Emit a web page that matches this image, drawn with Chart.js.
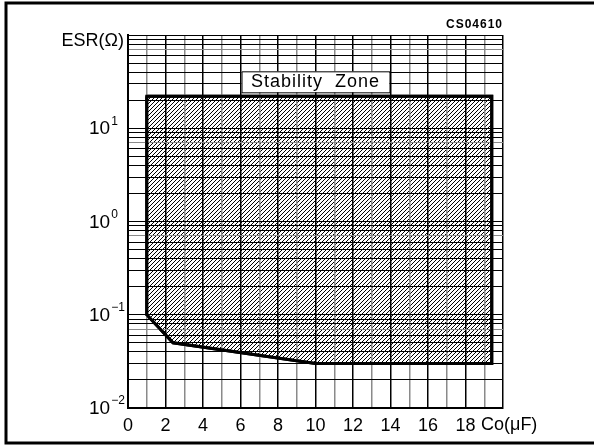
<!DOCTYPE html>
<html>
<head>
<meta charset="utf-8">
<script src="https://cdn.jsdelivr.net/npm/chart.js@4.4.1/dist/chart.umd.min.js"></script>
<style>
html, body { margin: 0; padding: 0; background: #fff; }
#wrap { position: relative; width: 594px; height: 445px; }
</style>
</head>
<body>
<div id="wrap"><canvas id="chartEsr"></canvas></div>
<script>
// stability zone outline (Co in uF, ESR in ohm), going round from top-left
const zoneCo  = [1,  19.4, 19.4, 10,   2.4,  1,   1];
const zoneEsr = [22, 22,   0.03, 0.03, 0.05, 0.1, 22];

const xMin = 0, xMax = 20;
const xLabelTicks = [0, 2, 4, 6, 8, 10, 12, 14, 16, 18];
const yDecades = [0.01, 0.1, 1, 10];
const yExponents = ['\u22122', '\u22121', '0', '1'];
const yMultipliers = [1, 2, 3, 4, 5, 6, 7, 8, 9];
const yMax = 100;

const FONT = '"Liberation Sans", Arial, sans-serif';

const yGrid = yDecades.flatMap(d => yMultipliers.map(m => +(d * m).toPrecision(3))).concat([yMax]);

function significand(v) {
    const e = Math.floor(Math.log10(v) + 1e-9);
    return Math.round(v / Math.pow(10, e));
}

function hatch() {
    const c = document.createElement('canvas');
    c.width = 4; c.height = 4;
    const g = c.getContext('2d');
    g.fillStyle = '#fff';
    g.fillRect(0, 0, 4, 4);
    g.strokeStyle = '#000';
    g.lineWidth = 1;
    g.beginPath();
    g.moveTo(-1, 5); g.lineTo(5, -1);
    g.moveTo(-1, 1); g.lineTo(1, -1);
    g.moveTo(3, 5); g.lineTo(5, 3);
    g.stroke();
    return g.createPattern(c, 'repeat');
}

const decor = {
    id: 'decor',
    afterDraw(chart) {
        const ctx = chart.ctx;
        const xs = chart.scales.x, ys = chart.scales.y;
        ctx.save();

        // zone outline again, on top of the grid
        const pts = chart.getDatasetMeta(0).data;
        ctx.strokeStyle = '#000';
        ctx.lineWidth = 3;
        ctx.lineJoin = 'miter';
        ctx.beginPath();
        pts.forEach((p, i) => i ? ctx.lineTo(p.x, p.y) : ctx.moveTo(p.x, p.y));
        ctx.closePath();
        ctx.stroke();

        // outer frame
        ctx.strokeRect(6, 3, 600, 440);

        ctx.fillStyle = '#000';
        ctx.textBaseline = 'middle';

        // y axis title
        ctx.font = '18px ' + FONT;
        ctx.textAlign = 'right';
        ctx.fillText('ESR(\u03A9)', 124, 41);

        // y decade labels 10^n
        ctx.textAlign = 'left';
        yDecades.forEach((d, i) => {
            const y = ys.getPixelForValue(d);
            ctx.font = '19px ' + FONT;
            ctx.fillText('10', 89, y + 1);
            const w = ctx.measureText('10').width;
            ctx.font = '12px ' + FONT;
            ctx.fillText(yExponents[i], 89 + w + 1, y - 7);
        });

        // x axis title
        ctx.font = '18px ' + FONT;
        ctx.fillText('Co(\u03BCF)', 481, 425);

        // drawing code
        ctx.font = 'bold 12px ' + FONT;
        ctx.textAlign = 'right';
        ctx.letterSpacing = '1px';
        ctx.fillText('CS04610', xs.getPixelForValue(xMax), 25);

        // zone label box
        const cx = xs.getPixelForValue(10);
        const bottom = ys.getPixelForValue(zoneEsr[0]) - 4;
        ctx.fillStyle = '#fff';
        ctx.fillRect(cx - 74, bottom - 21, 148, 21);
        ctx.strokeStyle = '#000';
        ctx.lineWidth = 1;
        ctx.strokeRect(cx - 74 + 0.5, bottom - 21 + 0.5, 148, 21);
        ctx.fillStyle = '#000';
        ctx.textAlign = 'center';
        ctx.font = '18px ' + FONT;
        ctx.fillText('Stability  Zone', cx, bottom - 10);
        ctx.restore();
    }
};

new Chart(document.getElementById('chartEsr'), {
    type: 'line',
    data: {
        datasets: [{
            data: zoneCo.map((x, i) => ({ x, y: zoneEsr[i] })),
            borderColor: '#000',
            borderWidth: 3,
            borderJoinStyle: 'miter',
            backgroundColor: hatch(),
            fill: 'shape',
            pointRadius: 0,
            tension: 0
        }]
    },
    options: {
        responsive: true,
        maintainAspectRatio: false,
        animation: false,
        layout: { padding: { left: 0, top: 35, right: 91, bottom: 0 } },
        plugins: { legend: { display: false }, tooltip: { enabled: false } },
        scales: {
            x: {
                type: 'linear', min: xMin, max: xMax,
                afterFit: s => { s.height = 37; },
                ticks: {
                    stepSize: 1, autoSkip: false, maxRotation: 0, padding: 7,
                    color: '#000', font: { family: FONT, size: 18 },
                    callback: v => xLabelTicks.includes(v) ? String(v) : ''
                },
                grid: {
                    z: 1,
                    drawTicks: false,
                    lineWidth: 1.5,
                    color: c => (c.tick && c.tick.value % 2 === 1) ? '#8a8a8a' : '#000'
                },
                border: { color: '#000', width: 2, z: 1 }
            },
            y: {
                type: 'logarithmic', min: yDecades[0], max: yMax,
                afterFit: s => { s.width = 128; },
                afterBuildTicks: s => { s.ticks = yGrid.map(v => ({ value: v })); },
                ticks: { display: false },
                grid: {
                    z: 1,
                    drawTicks: false,
                    lineWidth: 1,
                    color: c => (c.tick && significand(c.tick.value) === 7) ? '#8a8a8a' : '#000'
                },
                border: { color: '#000', width: 2, z: 1 }
            }
        }
    },
    plugins: [decor]
});
</script>
</body>
</html>
